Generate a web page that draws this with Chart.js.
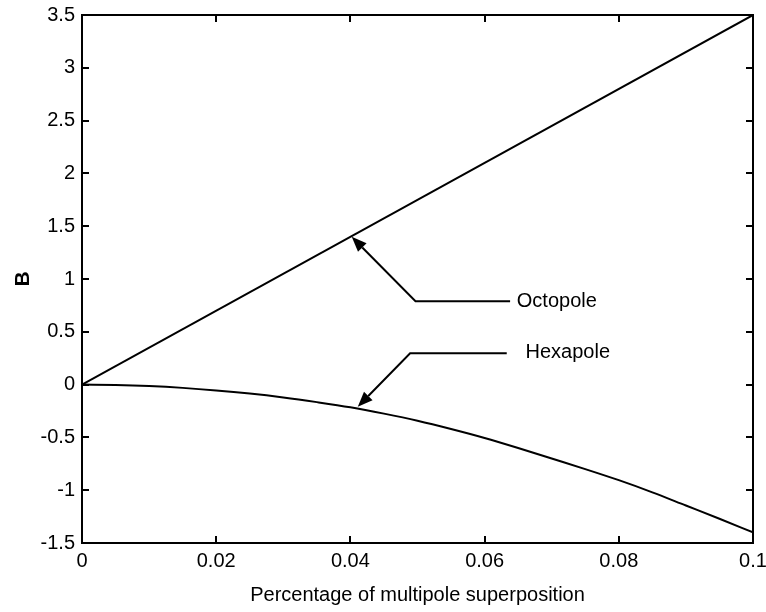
<!DOCTYPE html>
<html>
<head>
<meta charset="utf-8">
<script src="https://cdn.jsdelivr.net/npm/chart.js@4.4.1/dist/chart.umd.min.js"></script>
<style>
  html, body { margin: 0; padding: 0; background: #fff; }
  #wrap { width: 766px; height: 612px; }
</style>
</head>
<body>
<div id="wrap"><canvas id="myChart" width="766" height="612"></canvas></div>
<script>
// values
var xOcto = [0, 0.05, 0.1];
var yOcto = [0, 1.75, 3.5];

var xHexa = [0, 0.005, 0.01, 0.015, 0.02, 0.025, 0.03, 0.035, 0.04, 0.045, 0.05,
             0.055, 0.06, 0.065, 0.07, 0.075, 0.08, 0.085, 0.09, 0.095, 0.1];
var yHexa = [0, -0.004, -0.014, -0.031, -0.055, -0.085, -0.122, -0.166, -0.215, -0.275, -0.342,
             -0.42, -0.505, -0.60, -0.70, -0.80, -0.905, -1.02, -1.145, -1.27, -1.40];

// annotation: text, text anchor, then arrow path (end of line -> elbow -> tip)
var noteLabels = ["Octopole", "Hexapole"];
var noteText = [[0.0648, 0.79], [0.0661, 0.30]];
var notePath = [
  [[0.0638, 0.79], [0.0497, 0.79], [0.0402, 1.40]],
  [[0.0633, 0.296], [0.0489, 0.296], [0.0411, -0.209]]
];

var FONT = "'Liberation Sans', Arial, sans-serif";

function toPts(xs, ys) {
  var out = [];
  for (var i = 0; i < xs.length; i++) out.push({x: xs[i], y: ys[i]});
  return out;
}

var frame = {
  id: 'frame',
  afterDraw: function (chart) {
    var ctx = chart.ctx;
    var a = chart.chartArea;
    var xs = chart.scales.x, ys = chart.scales.y;
    ctx.save();
    ctx.strokeStyle = '#000';
    ctx.lineWidth = 2;
    ctx.strokeRect(a.left, a.top, a.right - a.left, a.bottom - a.top);
    var t = 7;
    ctx.beginPath();
    xs.ticks.forEach(function (tk) {
      var px = Math.round(xs.getPixelForValue(tk.value));
      ctx.moveTo(px, a.bottom); ctx.lineTo(px, a.bottom - t);
      ctx.moveTo(px, a.top); ctx.lineTo(px, a.top + t);
    });
    ys.ticks.forEach(function (tk) {
      var py = Math.round(ys.getPixelForValue(tk.value));
      ctx.moveTo(a.left, py); ctx.lineTo(a.left + t, py);
      ctx.moveTo(a.right, py); ctx.lineTo(a.right - t, py);
    });
    ctx.stroke();

    // annotations
    ctx.lineWidth = 2;
    ctx.fillStyle = '#000';
    for (var i = 0; i < notePath.length; i++) {
      var p = notePath[i].map(function (d) {
        return [xs.getPixelForValue(d[0]), ys.getPixelForValue(d[1])];
      });
      var tip = p[p.length - 1], prev = p[p.length - 2];
      var ang = Math.atan2(tip[1] - prev[1], tip[0] - prev[0]);
      var hl = 15, hw = 6;
      var bx = tip[0] - hl * Math.cos(ang), by = tip[1] - hl * Math.sin(ang);
      ctx.beginPath();
      ctx.moveTo(p[0][0], p[0][1]);
      ctx.lineTo(p[1][0], p[1][1]);
      ctx.lineTo(bx, by);
      ctx.stroke();
      ctx.beginPath();
      ctx.moveTo(tip[0], tip[1]);
      ctx.lineTo(bx + hw * Math.sin(ang), by - hw * Math.cos(ang));
      ctx.lineTo(bx - hw * Math.sin(ang), by + hw * Math.cos(ang));
      ctx.closePath();
      ctx.fill();

      ctx.font = '20px ' + FONT;
      ctx.textAlign = 'left';
      ctx.textBaseline = 'middle';
      ctx.fillText(noteLabels[i], xs.getPixelForValue(noteText[i][0]), ys.getPixelForValue(noteText[i][1]));
    }
    ctx.restore();
  }
};

var chart = new Chart(document.getElementById('myChart'), {
  type: 'line',
  data: {
    datasets: [{
      label: 'Octopole',
      data: toPts(xOcto, yOcto),
      borderColor: '#000',
      borderWidth: 2,
      pointRadius: 0,
      tension: 0
    }, {
      label: 'Hexapole',
      data: toPts(xHexa, yHexa),
      borderColor: '#000',
      borderWidth: 2,
      pointRadius: 0,
      cubicInterpolationMode: 'monotone'
    }]
  },
  options: {
    responsive: false,
    animation: false,
    devicePixelRatio: 1,
    layout: { padding: { top: 15, right: 13, left: 0, bottom: 0 } },
    plugins: { legend: { display: false }, tooltip: { enabled: false } },
    scales: {
      x: {
        type: 'linear',
        min: 0, max: 0.1,
        afterFit: function (s) { s.height = 69; s.paddingLeft = 0; s.paddingRight = 0; },
        grid: { display: false, drawTicks: false },
        border: { display: false },
        ticks: {
          stepSize: 0.02,
          padding: 6,
          color: '#000',
          font: { family: FONT, size: 20 },
          maxRotation: 0,
          callback: function (v) { return String(+v.toFixed(3)); }
        },
        title: {
          display: true,
          text: 'Percentage of multipole superposition',
          color: '#000',
          font: { family: FONT, size: 20 },
          padding: { top: 0, bottom: 5 }
        }
      },
      y: {
        min: -1.5, max: 3.5,
        afterFit: function (s) { s.width = 82; s.paddingTop = 0; s.paddingBottom = 0; },
        grid: { display: false, drawTicks: false },
        border: { display: false },
        ticks: {
          stepSize: 0.5,
          padding: 7,
          color: '#000',
          font: { family: FONT, size: 20 },
          callback: function (v) { return String(+v.toFixed(2)); }
        },
        title: {
          display: true,
          text: 'B',
          color: '#000',
          font: { family: FONT, size: 21, weight: 'bold' },
          padding: { top: 11, bottom: 0 }
        }
      }
    }
  },
  plugins: [frame]
});
</script>
</body>
</html>
